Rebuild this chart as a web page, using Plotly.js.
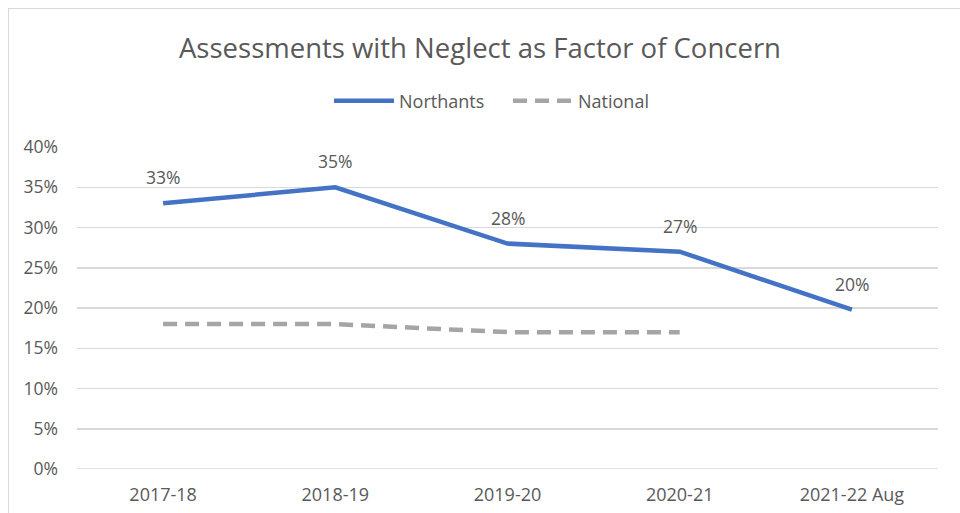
<!DOCTYPE html>
<html>
<head>
<meta charset="utf-8">
<script src="https://cdn.plot.ly/plotly-3.0.1.min.js"></script>
<style>
html,body{margin:0;padding:0;background:#fff;overflow:hidden;}
#frame{position:absolute;left:8px;top:8px;width:1000px;height:600px;border:1.5px solid #d9d9d9;box-sizing:border-box;}
#chart{position:absolute;left:0;top:0;width:960px;height:513px;}
</style>
</head>
<body>
<div id="frame"></div>
<div id="chart"></div>
<script>
const categories = ["2017-18", "2018-19", "2019-20", "2020-21", "2021-22 Aug"];
const northants = [33, 35, 28, 27, 19.8];
const northantsLabels = ["33%", "35%", "28%", "27%", "20%"];
const national = [18, 18, 17, 17, null];
const yTicks = [0, 5, 10, 15, 20, 25, 30, 35, 40];
const yTickLabels = ["0%", "5%", "10%", "15%", "20%", "25%", "30%", "35%", "40%"];

const FONT = "'Open Sans', sans-serif";
const TXT = "#595959";

const traces = [
  {
    x: categories, y: northants, name: "Northants", type: "scatter", mode: "lines",
    line: {color: "#4472C4", width: 4.5}, hoverinfo: "skip"
  },
  {
    x: categories, y: national, name: "National", type: "scatter", mode: "lines",
    line: {color: "#A5A5A5", width: 4.5, dash: "14px,8px"}, hoverinfo: "skip"
  }
];

const annotations = categories.map((c, i) => ({
  x: c, y: northants[i], xref: "x", yref: "y", text: northantsLabels[i],
  showarrow: false, yshift: 26, font: {family: FONT, size: 17.5, color: TXT}
}));

const layout = {
  width: 960, height: 513,
  paper_bgcolor: "rgba(0,0,0,0)", plot_bgcolor: "rgba(0,0,0,0)",
  margin: {l: 77, r: 22, t: 147, b: 44},
  font: {family: FONT, color: TXT, size: 18},
  title: {text: "Assessments with Neglect as Factor of Concern", x: 0.5, xanchor: "center",
          y: 1 - 48/513, yanchor: "middle", yref: "container",
          font: {family: FONT, size: 27.5, color: TXT}},
  showlegend: true,
  legend: {orientation: "h", x: (329-77)/861, xanchor: "left", y: (469-101)/322, yanchor: "middle",
           font: {family: FONT, size: 18, color: TXT}, itemwidth: 60, tracegroupgap: 0,
           entrywidth: 104, entrywidthmode: "pixels"},
  xaxis: {type: "category", range: [-0.5, 4.5], showgrid: false, zeroline: false,
          showline: false, ticks: "", tickfont: {family: FONT, size: 18, color: TXT}, ticklabelstandoff: 13,
          fixedrange: true},
  yaxis: {range: [0, 40], tickvals: yTicks, ticktext: yTickLabels, showgrid: true,
          gridcolor: "#d9d9d9", gridwidth: 1.5, zeroline: false, showline: false, ticks: "",
          tickfont: {family: FONT, size: 17.5, color: TXT}, ticklabelstandoff: 18, fixedrange: true},
  annotations: annotations,
  shapes: [{type: "line", xref: "paper", yref: "y", x0: 0, x1: 1, y0: 0, y1: 0,
            line: {color: "#d9d9d9", width: 1.5}, layer: "below"}]
};

Plotly.newPlot("chart", traces, layout, {displayModeBar: false, staticPlot: true});
</script>
</body>
</html>
